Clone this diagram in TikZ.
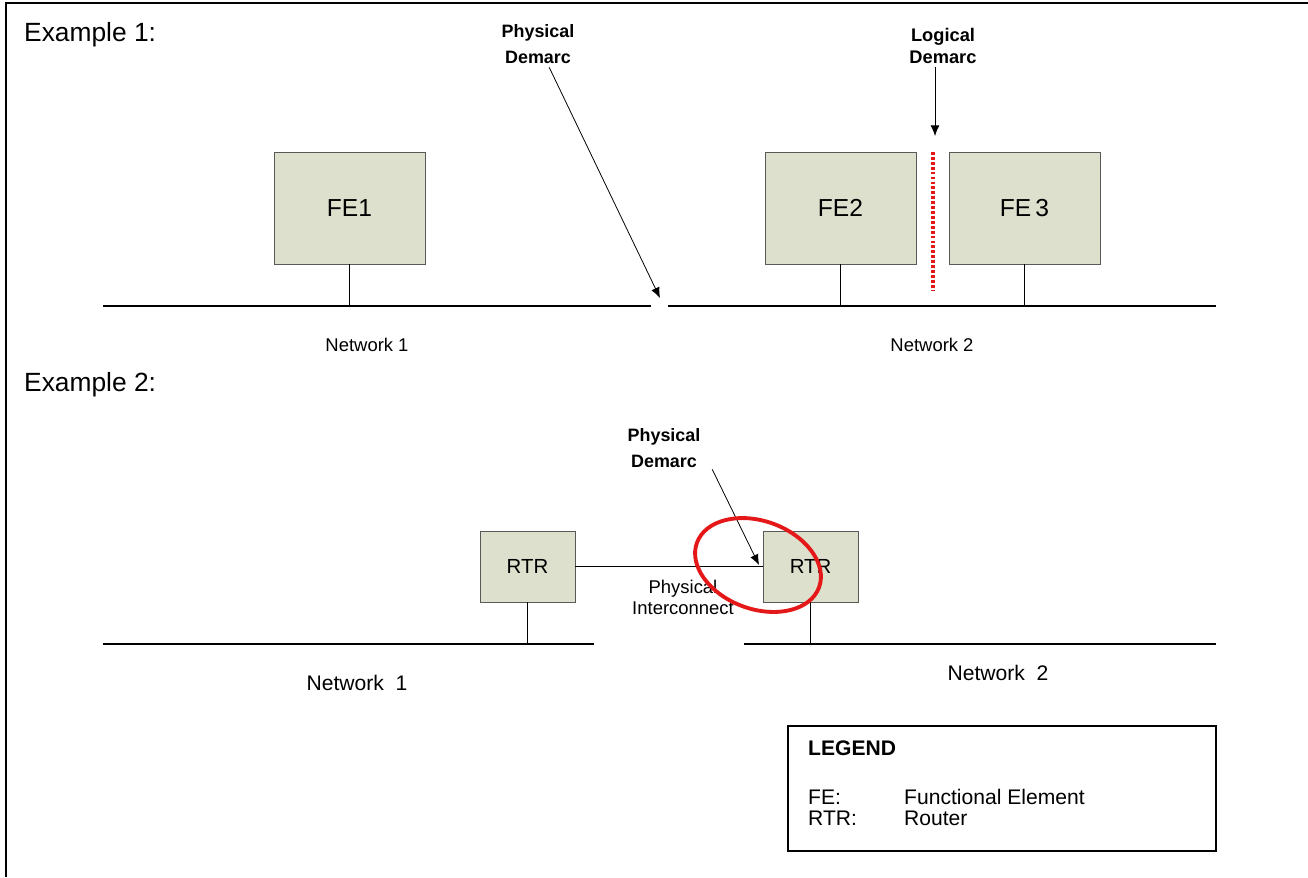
\documentclass[tikz,border=0pt]{standalone}
\usepackage{fontspec}
\setmainfont{Liberation Sans}
\usepackage{xcolor}
\usepackage{tikz}
\usetikzlibrary{shapes,calc,arrows.meta}

\definecolor{feFill}{RGB}{221,224,204}
\definecolor{demarcRed}{RGB}{228,24,24}

\tikzset{
  febox/.style={draw=black!65, fill=feFill, inner sep=0pt,
    minimum width=3.02cm, minimum height=2.24cm,
    font=\fontsize{14}{16}\selectfont},
  rtrbox/.style={febox, minimum width=1.9cm, minimum height=1.42cm,
    font=\fontsize{11.6}{14}\selectfont},
  netline/.style={line width=1.1pt},
  demarclabel/.style={align=center, inner sep=2pt,
    font=\fontsize{10.2}{14.7}\selectfont\bfseries},
  pointer/.style={-{Latex[length=6pt,width=5pt]}, line width=0.45pt},
}

\begin{document}
\begin{tikzpicture}[x=0.02cm,y=-0.02cm]
      \useasboundingbox (0,0) rectangle (1308,877);
      \draw [line width=1.3pt] (6,877) -- (6,3) -- (1308,3);

      % Example 1
      \node (ex1) at (18,35) [anchor=west, font=\fontsize{15}{18}\selectfont] {Example 1:};
      \node (fe1) at (349.5,208) [febox] {FE1};
      \node (fe2) at (840.5,208) [febox] {FE2};
      \node (fe3) at (1024.5,208) [febox] {FE\,3};
      \coordinate (n1a) at (103,306);
      \coordinate (n1b) at (651,306);
      \coordinate (n2a) at (668,306);
      \coordinate (n2b) at (1216,306);
      \draw [netline] (n1a) -- (n1b);
      \draw [netline] (n2a) -- (n2b);
      \draw [netline] (fe1.south) -- (fe1.south |- n1a);
      \draw [netline] (fe2.south) -- (fe2.south |- n2a);
      \draw [netline] (fe3.south) -- (fe3.south |- n2a);
      \node (net1) at (367,345) [font=\fontsize{10.5}{12}\selectfont] {Network 1};
      \node (net2) at (932,345) [font=\fontsize{10.5}{12}\selectfont] {Network 2};

      \node (pd1) at (538,44) [demarclabel] {Physical\\Demarc};
      \coordinate (pd1tip) at (660,298);
      \draw [pointer] (pd1) -- (pd1tip);

      \node (ld) at (943,46) [demarclabel, font=\fontsize{10.4}{12}\selectfont\bfseries] {Logical\\Demarc};
      \coordinate (ldtip) at (935,136);
      \draw [pointer] (ld.south -| ldtip) -- (ldtip);
      \coordinate (ldtop) at (933,152);
      \coordinate (ldbot) at (933,290);
      \draw [demarcRed, line width=1.8pt, dash pattern=on 1.6pt off 1.2pt] (ldtop) -- (ldbot);

      % Example 2
      \node (ex2) at (18,385) [anchor=west, font=\fontsize{15}{18}\selectfont] {Example 2:};
      \node (rtr1) at (527.5,566.5) [rtrbox] {RTR};
      \node (rtr2) at (810.5,566.5) [rtrbox] {RTR};
      \draw [line width=0.9pt] (rtr1) -- (rtr2);
      \node (pic) at (683,597) [align=center, font=\fontsize{10.5}{12}\selectfont] {Physical\\Interconnect};
      \coordinate (m1a) at (103,644);
      \coordinate (m1b) at (594,644);
      \coordinate (m2a) at (744,644);
      \coordinate (m2b) at (1216,644);
      \draw [netline] (m1a) -- (m1b);
      \draw [netline] (m2a) -- (m2b);
      \draw [netline] (rtr1.south) -- (rtr1.south |- m1a);
      \draw [netline] (rtr2.south) -- (rtr2.south |- m2a);
      \node (net3) at (357,683) [font=\fontsize{12}{14}\selectfont] {Network\ \ 1};
      \node (net4) at (998,673) [font=\fontsize{12}{14}\selectfont] {Network\ \ 2};

      \node (pd2) at (664,448) [demarclabel] {Physical\\Demarc};
      \coordinate (pd2tip) at (759,565);
      \draw [pointer] ($(pd2.south east)+(8,-2)$) -- (pd2tip);
      \draw [demarcRed, line width=2.2pt, rotate around={-20:(758,565)}] (758,565) ellipse (65 and 44);

      % legend
      \node (legend) at (1002,788.5) [draw, line width=0.9pt, minimum width=8.56cm, minimum height=2.5cm] {};
      \begin{scope}[font=\fontsize{12}{14}\selectfont]
        \node (lgtitle) at (802,748) [anchor=west, font=\fontsize{12}{14}\selectfont\bfseries] {LEGEND};
        \node (lgfe) at (802,797) [anchor=west] {FE:};
        \node (lgfetext) at (898,797) [anchor=west] {Functional Element};
        \node (lgrtr) at (802,818) [anchor=west] {RTR:};
        \node (lgrtrtext) at (898,818) [anchor=west] {Router};
      \end{scope}
    \end{tikzpicture}
\end{document}
